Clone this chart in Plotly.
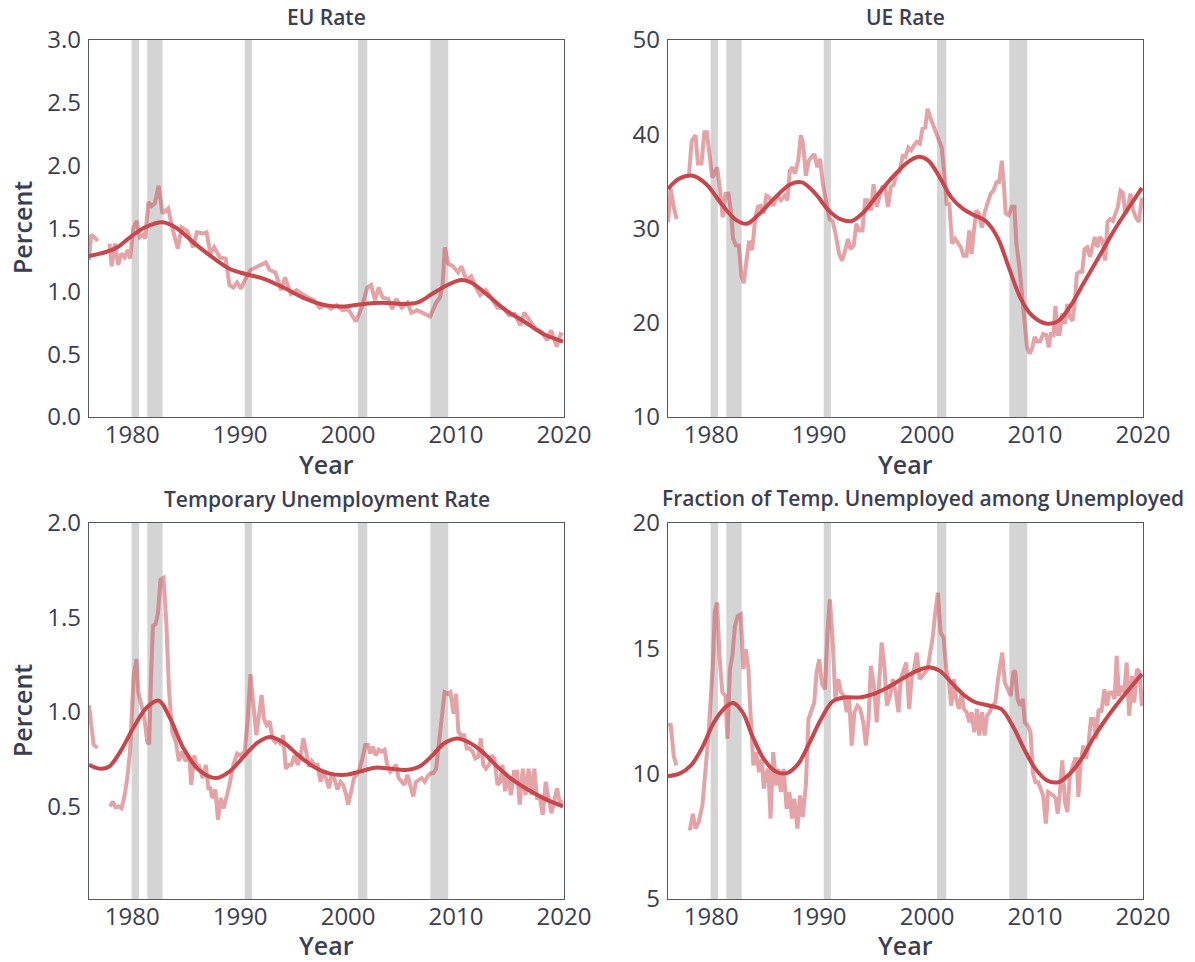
import plotly.graph_objects as go

# ---------------- data ----------------
rec_start = [1979.95, 1981.4, 1990.42, 2000.92, 2007.62]
rec_end = [1980.63, 1982.82, 1991.09, 2001.78, 2009.28]

eu_years = [1976.0, 1976.2, 1976.5, 1976.8, 1977.3, 1977.9, 1978.1, 1978.4, 1978.7, 1979.0, 1979.3, 1979.6, 1979.8,
            1980.1, 1980.4, 1980.7, 1981.0, 1981.2, 1981.5, 1981.8, 1982.1, 1982.45, 1982.8, 1983.34, 1983.7,
            1984.23, 1984.58, 1985.11, 1985.65, 1986.0, 1986.53, 1986.89, 1987.24, 1987.6, 1988.13, 1988.66,
            1989.01, 1989.37, 1989.72, 1990.08, 1990.43, 1990.96, 1991.5, 1991.85, 1992.38, 1992.74, 1993.27,
            1993.8, 1994.16, 1994.69, 1995.22, 1995.75, 1996.28, 1996.82, 1997.35, 1997.88, 1998.41, 1998.94,
            1999.48, 2000.0, 2000.72, 2001.25, 2001.78, 2002.13, 2002.49, 2002.84, 2003.2, 2003.73, 2004.09,
            2004.44, 2004.97, 2005.5, 2005.86, 2006.39, 2007.1, 2007.6, 2008.16, 2008.51, 2008.75, 2008.96,
            2009.27, 2009.7, 2010.2, 2010.5, 2010.97, 2011.4, 2011.71, 2012.24, 2012.77, 2013.3, 2013.84,
            2014.37, 2014.9, 2015.43, 2015.96, 2016.32, 2016.85, 2017.38, 2017.91, 2018.44, 2018.8, 2019.33,
            2019.68, 2019.9]
eu_raw = [1.25, 1.45, 1.43, 1.40, None, 1.38, 1.20, 1.38, 1.21, 1.30, 1.27, 1.33, 1.26,
          1.50, 1.56, 1.43, 1.45, 1.42, 1.71, 1.68, 1.70, 1.84, 1.62, 1.66, 1.51,
          1.34, 1.51, 1.48, 1.35, 1.47, 1.46, 1.47, 1.30, 1.35, 1.27, 1.26,
          1.05, 1.03, 1.07, 1.02, 1.09, 1.17, 1.19, 1.21, 1.23, 1.17, 1.15,
          1.01, 1.11, 0.98, 1.01, 0.98, 0.95, 0.93, 0.87, 0.89, 0.86, 0.89,
          0.85, 0.86, 0.76, 0.87, 1.03, 1.05, 0.93, 1.03, 0.95, 0.94, 0.86,
          0.94, 0.87, 0.91, 0.83, 0.85, 0.82, 0.80, 0.91, 0.95, 1.05, 1.35,
          1.22, 1.20, 1.15, 1.20, 1.09, 1.12, 1.05, 0.97, 1.01, 0.94, 0.87,
          0.87, 0.81, 0.82, 0.73, 0.83, 0.76, 0.70, 0.68, 0.61, 0.69, 0.56,
          0.66, 0.65]
eu_trend_years = [1976.0, 1978.4, 1979.8, 1981.2, 1982.8, 1984.0, 1985.8, 1987.6, 1989.0, 1990.4, 1992.2, 1994.0,
                  1996.1, 1997.9, 1999.7, 2001.4, 2003.2, 2005.0, 2006.4, 2007.8, 2009.2, 2010.5, 2011.4, 2012.8,
                  2014.6, 2016.3, 2018.1, 2019.9]
eu_trend = [1.28, 1.34, 1.43, 1.51, 1.55, 1.51, 1.38, 1.26, 1.18, 1.14, 1.10, 1.03,
            0.94, 0.89, 0.88, 0.90, 0.91, 0.90, 0.91, 0.98, 1.05, 1.09, 1.07, 0.98,
            0.85, 0.76, 0.66, 0.60]

ue_years = [1976.0, 1976.25, 1976.53, 1976.8, 1977.4, 1977.95, 1978.2, 1978.55, 1978.77, 1979.1, 1979.37, 1979.6,
            1979.9, 1980.1, 1980.3, 1980.55, 1980.79, 1981.07, 1981.32, 1981.6, 1981.85, 1982.03, 1982.3,
            1982.56, 1982.8, 1983.02, 1983.27, 1983.52, 1983.8, 1984.09, 1984.33, 1984.58, 1984.87, 1985.11,
            1985.4, 1985.75, 1986.1, 1986.46, 1986.82, 1987.06, 1987.28, 1987.52, 1987.77, 1988.06, 1988.3,
            1988.52, 1988.77, 1989.05, 1989.3, 1989.55, 1989.83, 1990.08, 1990.36, 1990.65, 1990.96, 1991.25,
            1991.53, 1991.85, 1992.13, 1992.42, 1992.67, 1992.91, 1993.2, 1993.45, 1993.73, 1994.01, 1994.26,
            1994.5, 1994.8, 1995.04, 1995.33, 1995.57, 1995.86, 1996.1, 1996.39, 1996.64, 1996.92, 1997.17,
            1997.45, 1997.74, 1997.99, 1998.27, 1998.52, 1998.77, 1999.05, 1999.33, 1999.58, 1999.83, 2000.04,
            2000.29, 2000.57, 2000.82, 2001.1, 2001.35, 2001.6, 2001.82, 2002.06, 2002.31, 2002.6, 2002.88,
            2003.13, 2003.38, 2003.66, 2003.91, 2004.12, 2004.37, 2004.55, 2004.79, 2005.08, 2005.33, 2005.61,
            2005.89, 2006.14, 2006.43, 2006.67, 2006.92, 2007.1, 2007.28, 2007.56, 2007.84, 2008.09, 2008.27,
            2008.55, 2008.8, 2009.05, 2009.26, 2009.51, 2009.76, 2009.97, 2010.22, 2010.47, 2010.75, 2011.04,
            2011.28, 2011.46, 2011.71, 2011.89, 2012.1, 2012.28, 2012.52, 2012.77, 2012.99, 2013.23, 2013.48,
            2013.7, 2013.87, 2014.12, 2014.37, 2014.58, 2014.83, 2015.08, 2015.29, 2015.54, 2015.79, 2016.0,
            2016.25, 2016.5, 2016.71, 2016.96, 2017.21, 2017.42, 2017.67, 2017.91, 2018.13, 2018.38, 2018.62,
            2018.84, 2019.09, 2019.33, 2019.62, 2019.9]
ue_raw = [30.7, 34.2, 32.3, 31.0, None, 35.8, 39.3, 39.9, 36.9, 36.9, 40.2, 40.2,
          37.6, 35.4, 35.8, 36.5, 34.4, 31.2, 33.7, 33.7, 31.6, 28.9, 28.2,
          28.2, 25.0, 24.2, 26.6, 28.7, 27.7, 31.2, 32.3, 32.4, 31.6, 33.5,
          33.3, 32.4, 33.5, 33.0, 33.5, 33.0, 36.1, 36.5, 35.8, 37.2, 39.9,
          39.0, 35.6, 37.2, 37.6, 37.9, 36.5, 37.4, 34.6, 32.8, 31.0, 30.8,
          29.4, 27.3, 26.6, 27.7, 28.9, 27.8, 28.2, 30.5, 29.8, 29.8, 33.0,
          33.0, 31.9, 34.7, 32.3, 33.3, 34.4, 34.4, 32.3, 34.4, 34.7, 35.8,
          36.0, 37.7, 37.6, 38.6, 38.3, 38.8, 39.2, 39.0, 40.6, 40.7, 42.7,
          41.8, 40.9, 40.0, 39.3, 38.6, 35.8, 32.6, 32.6, 28.4, 28.9, 28.4,
          28.0, 27.1, 27.1, 29.8, 27.3, 30.1, 31.9, 31.6, 30.1, 31.7, 32.6,
          33.7, 34.0, 34.9, 34.9, 37.2, 34.9, 31.6, 31.4, 32.3, 32.3, 28.4,
          25.9, 23.1, 19.9, 17.4, 16.7, 17.4, 18.5, 18.0, 18.0, 18.8, 18.7,
          17.4, 18.8, 18.7, 21.8, 18.8, 18.8, 21.0, 19.9, 22.0, 20.6, 20.2,
          22.4, 25.2, 25.4, 25.4, 27.8, 28.0, 27.0, 28.0, 29.1, 28.0, 29.1,
          28.7, 26.6, 30.7, 31.0, 30.8, 31.6, 32.3, 34.0, 33.8, 31.6, 32.3,
          33.7, 31.9, 31.2, 30.7, 33.3]
ue_trend_years = [1976.0, 1977.06, 1978.3, 1979.55, 1980.96, 1982.2, 1983.27, 1984.5, 1985.93, 1987.35, 1988.41,
                  1989.65, 1990.9, 1991.96, 1993.02, 1994.09, 1995.5, 1996.92, 1998.16, 1999.23, 2000.11, 2001.18,
                  2002.24, 2003.3, 2004.37, 2005.43, 2006.5, 2007.56, 2008.62, 2009.69, 2011.1, 2012.17, 2013.23,
                  2014.65, 2016.07, 2017.49, 2018.91, 2019.9]
ue_trend = [34.2, 35.3, 35.6, 34.7, 32.6, 31.0, 30.5, 31.6, 33.3, 34.7, 34.9,
            33.7, 31.9, 31.0, 30.8, 31.7, 33.7, 35.6, 37.0, 37.6, 37.2, 35.4,
            33.3, 32.1, 31.4, 30.8, 29.1, 25.9, 22.7, 20.8, 19.9, 20.2, 21.7,
            24.5, 27.3, 30.1, 32.6, 34.3]

tu_years = [1976.0, 1976.25, 1976.43, 1976.78, 1977.4, 1977.95, 1978.2, 1978.45, 1978.73, 1979.01, 1979.3, 1979.55,
            1979.8, 1979.97, 1980.15, 1980.4, 1980.57, 1980.86, 1981.14, 1981.39, 1981.57, 1981.74, 1981.92,
            1982.17, 1982.38, 1982.63, 1982.91, 1983.16, 1983.41, 1983.7, 1984.05, 1984.33, 1984.58, 1984.94,
            1985.29, 1985.47, 1985.75, 1986.0, 1986.18, 1986.53, 1986.82, 1987.06, 1987.24, 1987.42, 1987.7,
            1987.95, 1988.2, 1988.48, 1988.73, 1989.01, 1989.37, 1989.72, 1990.0, 1990.43, 1990.68, 1990.96,
            1991.21, 1991.5, 1991.74, 1991.99, 1992.2, 1992.45, 1992.74, 1992.99, 1993.27, 1993.52, 1993.77,
            1993.98, 1994.23, 1994.51, 1994.76, 1995.04, 1995.33, 1995.57, 1995.86, 1996.1, 1996.39, 1996.64,
            1996.89, 1997.17, 1997.45, 1997.7, 1997.95, 1998.23, 1998.48, 1998.77, 1999.01, 1999.3, 1999.55,
            1999.83, 2000.0, 2000.29, 2000.54, 2000.79, 2001.07, 2001.32, 2001.6, 2001.85, 2002.06, 2002.31,
            2002.56, 2002.84, 2003.09, 2003.38, 2003.62, 2003.91, 2004.19, 2004.44, 2004.69, 2004.97, 2005.22,
            2005.5, 2005.75, 2006.04, 2006.28, 2006.57, 2006.82, 2007.1, 2007.35, 2007.63, 2007.88, 2008.16,
            2008.45, 2008.7, 2008.94, 2009.23, 2009.48, 2009.76, 2010.0, 2010.22, 2010.47, 2010.75, 2011.0,
            2011.28, 2011.53, 2011.78, 2012.06, 2012.3, 2012.52, 2012.77, 2013.05, 2013.3, 2013.55, 2013.84,
            2014.09, 2014.3, 2014.55, 2014.8, 2015.09, 2015.37, 2015.65, 2015.9, 2016.18, 2016.43, 2016.72,
            2017.0, 2017.25, 2017.5, 2017.78, 2018.03, 2018.31, 2018.56, 2018.84, 2019.09, 2019.36, 2019.61,
            2019.9]
tu_raw = [1.035, 0.895, 0.825, 0.81, None, 0.50, 0.526, 0.495, 0.50, 0.49, 0.56, 0.65,
          0.79, 1.0, 1.20, 1.28, 1.105, 1.035, 0.965, 0.84, 0.83, 1.175, 1.456,
          1.465, 1.52, 1.70, 1.71, 1.475, 1.12, 0.895, 0.84, 0.74, 0.79, 0.74,
          0.77, 0.614, 0.77, 0.70, 0.72, 0.65, 0.72, 0.596, 0.596, 0.544, 0.59,
          0.43, 0.544, 0.49, 0.544, 0.614, 0.72, 0.78, 0.77, 0.79, 0.95, 1.20,
          1.05, 0.877, 0.98, 1.09, 0.965, 0.93, 0.95, 0.86, 0.84, 0.86, 0.825,
          0.877, 0.70, 0.72, 0.72, 0.77, 0.72, 0.76, 0.86, 0.79, 0.71, 0.74,
          0.72, 0.72, 0.63, 0.684, 0.65, 0.596, 0.675, 0.64, 0.59, 0.63, 0.614,
          0.56, 0.51, 0.58, 0.65, 0.667, 0.70, 0.754, 0.825, 0.825, 0.78, 0.816,
          0.77, 0.80, 0.79, 0.80, 0.72, 0.684, 0.70, 0.72, 0.65, 0.63, 0.614,
          0.667, 0.614, 0.553, 0.63, 0.64, 0.65, 0.63, 0.658, 0.675, 0.675, 0.70,
          0.84, 1.0, 1.105, 1.096, 1.105, 0.99, 1.096, 0.895, 0.877, 0.877, 0.807,
          0.807, 0.79, 0.754, 0.763, 0.86, 0.72, 0.70, 0.72, 0.77, 0.754, 0.614,
          0.63, 0.72, 0.58, 0.667, 0.56, 0.684, 0.684, 0.51, 0.70, 0.56, 0.70,
          0.56, 0.70, 0.544, 0.544, 0.456, 0.63, 0.544, 0.465, 0.526, 0.596, 0.52,
          0.526]
tu_trend_years = [1976.0, 1976.96, 1977.84, 1978.9, 1980.15, 1981.39, 1982.45, 1983.52, 1984.76, 1986.18, 1987.77,
                  1989.01, 1990.43, 1991.67, 1992.74, 1993.98, 1995.4, 1996.82, 1998.23, 1999.65, 2001.07, 2002.49,
                  2003.91, 2005.33, 2006.57, 2007.81, 2008.87, 2010.11, 2011.18, 2012.42, 2013.84, 2015.26, 2016.67,
                  2018.09, 2019.9]
tu_trend = [0.72, 0.70, 0.71, 0.79, 0.92, 1.026, 1.06, 0.965, 0.807, 0.693, 0.65,
            0.684, 0.77, 0.84, 0.868, 0.84, 0.77, 0.71, 0.675, 0.667, 0.684, 0.705,
            0.70, 0.693, 0.71, 0.77, 0.833, 0.86, 0.84, 0.79, 0.71, 0.64, 0.588,
            0.544, 0.50]

fr_years = [1976.0, 1976.25, 1976.53, 1976.78, 1977.4, 1978.02, 1978.3, 1978.55, 1978.84, 1979.19, 1979.48, 1979.72,
            1979.9, 1980.15, 1980.33, 1980.54, 1980.79, 1981.04, 1981.32, 1981.5, 1981.74, 1981.96, 1982.2,
            1982.45, 1982.74, 1982.99, 1983.2, 1983.45, 1983.62, 1983.91, 1984.16, 1984.44, 1984.69, 1984.87,
            1985.11, 1985.29, 1985.5, 1985.75, 1986.0, 1986.21, 1986.46, 1986.71, 1986.99, 1987.24, 1987.49,
            1987.7, 1987.99, 1988.23, 1988.48, 1988.77, 1989.01, 1989.3, 1989.55, 1989.76, 1990.01, 1990.26,
            1990.54, 1990.79, 1991.0, 1991.25, 1991.5, 1991.78, 1992.03, 1992.31, 1992.56, 1992.77, 1993.02,
            1993.27, 1993.55, 1993.8, 1994.09, 1994.33, 1994.58, 1994.79, 1995.08, 1995.33, 1995.57, 1995.79,
            1996.04, 1996.28, 1996.57, 1996.82, 1997.1, 1997.35, 1997.56, 1997.81, 1998.06, 1998.34, 1998.59,
            1998.8, 1999.05, 1999.3, 1999.51, 1999.76, 2000.04, 2000.29, 2000.54, 2000.75, 2001.0, 2001.25,
            2001.53, 2001.78, 2001.99, 2002.24, 2002.49, 2002.7, 2002.95, 2003.2, 2003.41, 2003.66, 2003.91,
            2004.12, 2004.37, 2004.62, 2004.83, 2005.08, 2005.33, 2005.54, 2005.79, 2006.04, 2006.32, 2006.57,
            2006.78, 2006.96, 2007.2, 2007.45, 2007.74, 2007.99, 2008.16, 2008.38, 2008.62, 2008.87, 2009.05,
            2009.33, 2009.58, 2009.79, 2010.04, 2010.29, 2010.5, 2010.75, 2011.0, 2011.21, 2011.46, 2011.71,
            2011.92, 2012.1, 2012.28, 2012.52, 2012.77, 2012.99, 2013.23, 2013.48, 2013.7, 2013.87, 2014.01,
            2014.23, 2014.48, 2014.72, 2014.94, 2015.18, 2015.43, 2015.65, 2015.89, 2016.14, 2016.43, 2016.67,
            2016.89, 2017.13, 2017.38, 2017.56, 2017.77, 2018.02, 2018.27, 2018.48, 2018.72, 2018.98, 2019.19,
            2019.44, 2019.69, 2019.9]
fr_raw = [11.94, 11.94, 10.72, 10.33, None, 7.74, 8.4, 7.81, 8.07, 8.74, 10.06, 11.39,
          12.58, 14.3, 16.42, 16.82, 14.57, 13.24, 13.1, 11.39, 14.17, 14.7, 15.89,
          16.29, 16.36, 14.17, 14.96, 14.17, 12.58, 10.33, 10.86, 10.06, 10.59, 9.4,
          10.06, 10.19, 8.21, 10.86, 9.53, 10.19, 9.27, 10.19, 8.6, 9.27, 8.21,
          9.0, 7.81, 9.13, 8.27, 9.53, 12.18, 12.58, 12.84, 14.04, 14.57, 13.57,
          13.37, 15.76, 16.95, 15.36, 12.98, 13.77, 13.24, 13.1, 12.45, 13.1, 11.12,
          12.45, 12.71, 12.58, 12.05, 11.12, 12.18, 14.3, 13.5, 12.05, 13.64, 15.23,
          14.3, 12.71, 13.1, 13.77, 13.24, 12.45, 13.77, 14.17, 14.43, 12.58, 13.9,
          14.17, 14.83, 13.77, 13.9, 14.04, 14.17, 14.83, 15.49, 16.42, 17.22, 15.63,
          15.43, 14.17, 13.77, 12.71, 13.77, 12.98, 12.58, 13.24, 12.58, 12.45, 12.05,
          12.45, 11.65, 12.58, 11.52, 12.45, 11.52, 12.31, 12.45, 12.71, 12.84, 13.77,
          14.3, 14.83, 13.64, 13.37, 13.1, 14.04, 14.1, 12.98, 12.71, 12.98, 12.05,
          11.92, 11.65, 10.06, 9.66, 9.66, 9.4, 9.13, 8.01, 9.27, 9.2, 9.13,
          9.0, 8.4, 9.13, 10.53, 8.87, 8.47, 9.93, 10.33, 10.59, 10.59, 9.07,
          10.46, 11.12, 10.59, 11.12, 12.18, 12.18, 11.39, 12.58, 12.45, 13.37, 12.71,
          13.24, 13.24, 12.98, 14.7, 13.1, 13.5, 13.24, 14.43, 12.31, 13.9, 12.84,
          14.17, 14.04, 12.71]
fr_trend_years = [1976.0, 1977.06, 1978.13, 1979.19, 1980.26, 1981.32, 1982.03, 1982.91, 1983.8, 1984.87, 1985.93,
                  1987.0, 1988.06, 1989.12, 1990.18, 1991.25, 1992.31, 1993.73, 1994.79, 1996.21, 1997.63, 1999.05,
                  2000.29, 2001.18, 2002.24, 2003.3, 2004.37, 2005.79, 2006.85, 2007.91, 2008.98, 2010.04, 2011.11,
                  2012.17, 2013.23, 2014.3, 2015.36, 2016.78, 2018.2, 2019.9]
fr_trend = [9.9, 10.0, 10.33, 11.06, 12.05, 12.65, 12.82, 12.45, 11.52, 10.59, 10.1,
            10.02, 10.39, 11.25, 12.18, 12.88, 13.04, 13.04, 13.14, 13.41, 13.77, 14.1,
            14.24, 14.1, 13.64, 13.18, 12.87, 12.71, 12.58, 11.92, 10.99, 10.19, 9.73,
            9.66, 10.0, 10.59, 11.39, 12.31, 13.1, 13.97]

titles = ["EU Rate", "UE Rate", "Temporary Unemployment Rate", "Fraction of Temp. Unemployed among Unemployed"]
x_ticks = [1980, 1990, 2000, 2010, 2020]
y_ranges = [[0, 3], [10, 50], [0.01, 2.0], [5, 20]]
y_ticks = [[0, 0.5, 1.0, 1.5, 2.0, 2.5, 3.0], [10, 20, 30, 40, 50], [0.5, 1.0, 1.5, 2.0], [5, 10, 15, 20]]
y_ticktext = [["0.0", "0.5", "1.0", "1.5", "2.0", "2.5", "3.0"], ["10", "20", "30", "40", "50"],
              ["0.5", "1.0", "1.5", "2.0"], ["5", "10", "15", "20"]]

# ---------------- style ----------------
RAW_COLOR = "rgba(201, 72, 78, 0.5)"
TREND_COLOR = "#c8474c"
REC_COLOR = "#d4d4d4"
TEXT = "#3b3e50"
FONT = "Open Sans"

fig = go.Figure()

series = [(eu_years, eu_raw, eu_trend_years, eu_trend),
          (ue_years, ue_raw, ue_trend_years, ue_trend),
          (tu_years, tu_raw, tu_trend_years, tu_trend),
          (fr_years, fr_raw, fr_trend_years, fr_trend)]

for i, (xr, yr, xt, yt) in enumerate(series):
    ax = "" if i == 0 else str(i + 1)
    fig.add_trace(go.Scatter(x=xr, y=yr, mode="lines", xaxis="x" + ax, yaxis="y" + ax,
                             line=dict(color=RAW_COLOR, width=4), connectgaps=False,
                             showlegend=False, hoverinfo="skip"))
    fig.add_trace(go.Scatter(x=xt, y=yt, mode="lines", xaxis="x" + ax, yaxis="y" + ax,
                             line=dict(color=TREND_COLOR, width=4, shape="spline", smoothing=1.0),
                             showlegend=False))
    for s, e in zip(rec_start, rec_end):
        fig.add_shape(type="rect", xref="x" + ax, yref="y" + ax + " domain", x0=s, x1=e, y0=0, y1=1,
                      fillcolor=REC_COLOR, line=dict(width=0), layer="below")

W, H = 1195, 962
ML, MR, MT, MB = 89, 52, 40, 63
pw, ph = W - ML - MR, H - MT - MB
xdoms = [[0, 475 / pw], [(668 - ML) / pw, 1]]
ydoms = [[(899 - 417) / ph, 1], [0, (899 - 523) / ph]]

axis_common = dict(showgrid=False, zeroline=False, showline=True, mirror=True, linecolor="#555a60",
                   linewidth=1.3, ticks="", tickfont=dict(family=FONT, size=24, color=TEXT, weight=500))
layout = dict(width=W, height=H, margin=dict(l=ML, r=MR, t=MT, b=MB),
              paper_bgcolor="white", plot_bgcolor="white", showlegend=False)
for i in range(4):
    ax = "" if i == 0 else str(i + 1)
    layout["xaxis" + ax] = dict(axis_common, domain=xdoms[i % 2], range=[1976, 2020], tickvals=x_ticks,
                                anchor="y" + ax, ticklabelstandoff=-4)
    layout["yaxis" + ax] = dict(axis_common, domain=ydoms[i // 2], range=y_ranges[i], tickvals=y_ticks[i],
                                ticktext=y_ticktext[i], anchor="x" + ax, ticklabelstandoff=2)
fig.update_layout(**layout)

def px_to_paper_y(py):
    return (H - MB - py) / ph

def px_to_paper_x(px):
    return (px - ML) / pw

annos = []
title_pos = [(326.5, 17), (905.5, 17), (326.5, 499), (923, 498)]
for t, (cx, cy) in zip(titles, title_pos):
    annos.append(dict(text=t, x=px_to_paper_x(cx), y=px_to_paper_y(cy), xref="paper", yref="paper",
                      showarrow=False, xanchor="center", yanchor="middle",
                      font=dict(family=FONT, size=21, color=TEXT, weight=600)))
for cx, cy in [(326.5, 464), (905.5, 464), (326.5, 945), (905.5, 945)]:
    annos.append(dict(text="Year", x=px_to_paper_x(cx), y=px_to_paper_y(cy), xref="paper", yref="paper",
                      showarrow=False, xanchor="center", yanchor="middle",
                      font=dict(family=FONT, size=25, color=TEXT, weight=600)))
for cy in [228, 711]:
    annos.append(dict(text="Percent", x=px_to_paper_x(22), y=px_to_paper_y(cy), xref="paper", yref="paper",
                      showarrow=False, xanchor="center", yanchor="middle", textangle=-90,
                      font=dict(family=FONT, size=25, color=TEXT, weight=600)))
fig.update_layout(annotations=annos)

fig.write_html("out.html")
